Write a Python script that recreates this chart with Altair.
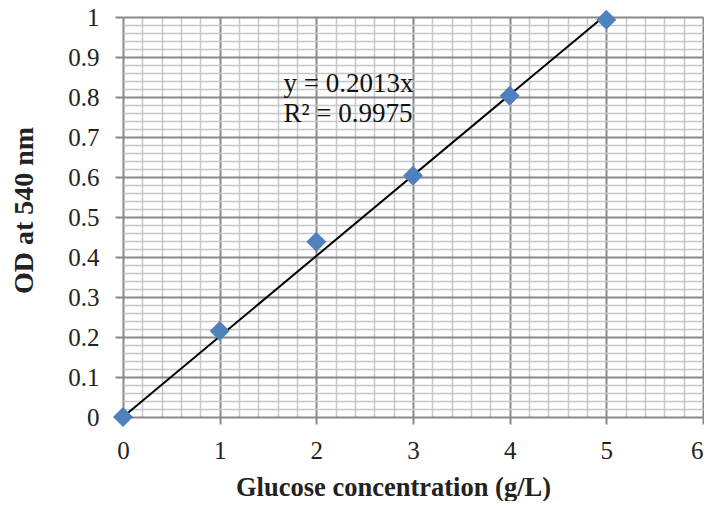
import altair as alt
import pandas as pd

# Data
conc = [0, 1, 2, 3, 4, 5]
od = [0.0, 0.215, 0.438, 0.603, 0.803, 0.993]

trend_x = [0, 5]
trend_y = [0.0, 1.0065]

eq_lines = ["y = 0.2013x", "R² = 0.9975"]
eq_x = [1.66, 1.66]
eq_y = [0.833, 0.757]

x_ticks = [round(i * 0.2, 1) for i in range(31)]
y_ticks = [round(i * 0.02, 2) for i in range(51)]

pts = pd.DataFrame({"x": conc, "y": od})
trend = pd.DataFrame({"x": trend_x, "y": trend_y})
eq = pd.DataFrame({"x": eq_x, "y": eq_y, "t": eq_lines})

FONT = "Liberation Serif"
MAJ = "#888888"
MIN = "#c6c6c6"

x_major = "abs(datum.value - round(datum.value)) < 1e-6"
y_major = "abs(datum.value*10 - round(datum.value*10)) < 1e-6"

x_scale = alt.Scale(domain=[0, 6], nice=False, zero=False)
y_scale = alt.Scale(domain=[0, 1], nice=False, zero=False)

x_axis = alt.Axis(
    values=x_ticks, tickCount=1000,
    grid=True,
    gridColor={"condition": {"test": x_major, "value": MAJ}, "value": MIN},
    gridWidth={"condition": {"test": x_major, "value": 2}, "value": 1.5},
    tickOpacity={"condition": {"test": x_major, "value": 1}, "value": 0},
    labelExpr=f"({x_major}) ? format(datum.value, '~g') : ''",
    labelAlign={"condition": {"test": "datum.value >= 6", "value": "right"}, "value": "center"},
    tickSize=7, tickColor=MAJ, tickWidth=2,
    domain=False,
    labelFont=FONT, labelFontSize=25, labelColor="#222",
    labelPadding=14, labelOverlap=False, labelFlush=False,
    title="Glucose concentration (g/L)",
    titleFont=FONT, titleFontSize=26.5, titleFontWeight="bold", titleColor="#222",
    titleX=270, titleY=78, titleBaseline="alphabetic", titleAlign="center",
)
y_axis = alt.Axis(
    values=y_ticks, tickCount=1000,
    grid=True,
    gridColor={"condition": {"test": y_major, "value": MAJ}, "value": MIN},
    gridWidth={"condition": {"test": y_major, "value": 2}, "value": 1.5},
    tickOpacity={"condition": {"test": y_major, "value": 1}, "value": 0},
    labelExpr=f"({y_major}) ? format(datum.value, '~g') : ''",
    tickSize=8, tickColor=MAJ, tickWidth=2,
    domain=False,
    labelFont=FONT, labelFontSize=25, labelColor="#222",
    labelPadding=16, labelOverlap=False, labelFlush=False,
    title="OD at 540 nm",
    titleFont=FONT, titleFontSize=28, titleFontWeight="bold", titleColor="#222",
    titleX=-99, titleY=193, titleAngle=270, titleBaseline="middle", titleAlign="center",
)

base_x = alt.X("x:Q", scale=x_scale, axis=x_axis)
base_y = alt.Y("y:Q", scale=y_scale, axis=y_axis)

line = alt.Chart(trend).mark_line(color="black", strokeWidth=2).encode(x=base_x, y=base_y)
points = alt.Chart(pts).mark_point(
    shape="diamond", filled=True, size=400, color="#4F81BD", opacity=1
).encode(x="x:Q", y="y:Q")
text = alt.Chart(eq).mark_text(
    align="left", baseline="middle", font=FONT, fontSize=27, color="#111"
).encode(x="x:Q", y="y:Q", text="t:N")

chart = (
    alt.layer(line, points, text)
    .properties(
        width=580, height=400,
        autosize=alt.AutoSizeParams(type="none"),
        padding={"left": 115, "top": 9, "right": 1, "bottom": 84},
    )
    .configure_view(stroke=None)
    .configure(background="white")
)

chart.save("out.html", embed_options={"renderer": "svg", "actions": False})
